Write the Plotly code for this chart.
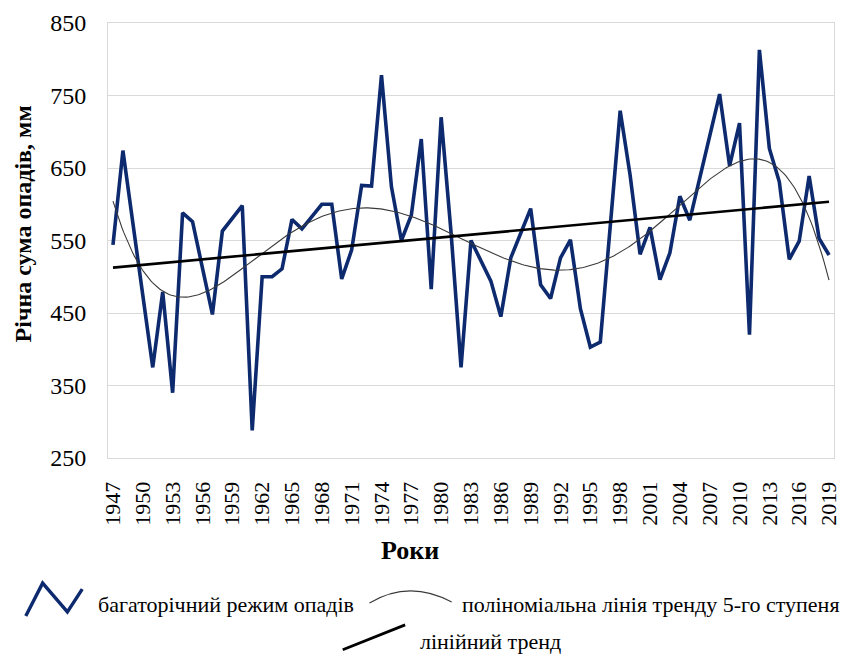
import numpy as np
import plotly.graph_objects as go

years = list(range(1947, 2020))
precip = [544, 674, 574, 475, 375, 479, 340, 588, 576, 512,
          448, 563, 581, 598, 288, 500, 500, 511, 579, 566,
          583, 600, 600, 497, 537, 626, 625, 778, 624, 550,
          585, 690, 483, 720, 560, 375, 550, 521, 494, 445,
          526, 560, 594, 489, 470, 526, 551, 456, 403, 410,
          570, 729, 640, 531, 568, 496, 533, 611, 578, 636,
          694, 752, 653, 712, 420, 813, 677, 631, 524, 549,
          639, 553, 530]
tick_years = years[::3]
y_ticks = [250, 350, 450, 550, 650, 750, 850]

series_name = "багаторічний режим опадів"
poly_name = "поліноміальна лінія тренду 5-го ступеня"
lin_name = "лінійний тренд"
x_title = "Роки"
y_title = "Річна сума опадів, мм"

# Trend lines fitted like Excel (x = 1..n)
idx = np.arange(1, len(years) + 1, dtype=float)
lin_coef = np.polyfit(idx, precip, 1)
lin_vals = np.polyval(lin_coef, idx)
xs_fine = np.linspace(1, len(years), 400)
poly_coef = np.polyfit(idx, precip, 5)
poly_vals = np.polyval(poly_coef, xs_fine)
poly_years = xs_fine + years[0] - 1

W, H = 851, 656
L, R, T, B = 108, 10, 20, 198
pw, ph = W - L - R, H - T - B

def px(x):
    return (x - L) / pw

def py(y):
    return (H - B - y) / ph

FONT = "Liberation Serif, Times New Roman, serif"
NAVY = "#0d2a6e"

fig = go.Figure()
fig.add_trace(go.Scatter(x=years, y=precip, mode="lines", name=series_name,
                         line=dict(color=NAVY, width=3.6), showlegend=False))
fig.add_trace(go.Scatter(x=poly_years, y=poly_vals, mode="lines", name=poly_name,
                         line=dict(color="#3a3a3a", width=1.1), showlegend=False))
fig.add_trace(go.Scatter(x=years, y=lin_vals, mode="lines", name=lin_name,
                         line=dict(color="black", width=2.6), showlegend=False))

fig.update_layout(
    width=W, height=H,
    margin=dict(l=L, r=R, t=T, b=B),
    paper_bgcolor="white", plot_bgcolor="white",
    font=dict(family=FONT, color="black"),
    xaxis=dict(range=[years[0] - 0.5, years[-1] + 0.5], tickmode="array",
               tickvals=tick_years, ticktext=[str(y) for y in tick_years],
               tickangle=-90, tickfont=dict(size=22, family=FONT),
               showgrid=False, zeroline=False, showline=True, linecolor="#d9d9d9",
               linewidth=1, mirror=True, ticks="", ticklabelstandoff=14),
    yaxis=dict(range=[250, 850], tickmode="array", tickvals=y_ticks,
               tickfont=dict(size=24, family=FONT), showgrid=True,
               gridcolor="#d9d9d9", gridwidth=1, zeroline=False, showline=True,
               linecolor="#d9d9d9", linewidth=1, mirror=True, ticks="",
               ticklabelstandoff=16),
)

ann = []
ann.append(dict(text="<b>" + y_title + "</b>", xref="paper", yref="paper",
                x=px(22), y=py(222), textangle=-90, showarrow=False,
                font=dict(size=24, family=FONT), xanchor="center", yanchor="middle"))
ann.append(dict(text="<b>" + x_title + "</b>", xref="paper", yref="paper",
                x=px(413), y=py(551), showarrow=False,
                font=dict(size=26, family=FONT), xanchor="center", yanchor="middle"))
ann.append(dict(text=series_name, xref="paper", yref="paper", x=px(96), y=py(606),
                showarrow=False, font=dict(size=22, family=FONT),
                xanchor="left", yanchor="middle"))
ann.append(dict(text=poly_name, xref="paper", yref="paper", x=px(463), y=py(606),
                showarrow=False, font=dict(size=22, family=FONT),
                xanchor="left", yanchor="middle"))
ann.append(dict(text=lin_name, xref="paper", yref="paper", x=px(421), y=py(643),
                showarrow=False, font=dict(size=22, family=FONT),
                xanchor="left", yanchor="middle"))

def pth(points):
    s = "M " + " L ".join(f"{px(a):.5f},{py(b):.5f}" for a, b in points)
    return s

shapes = [
    dict(type="path", xref="paper", yref="paper",
         path=pth([(25, 617), (42, 584), (67, 613), (82, 590)]),
         line=dict(color=NAVY, width=3.4)),
    dict(type="path", xref="paper", yref="paper",
         path=f"M {px(372):.5f},{py(604):.5f} Q {px(412):.5f},{py(580):.5f} {px(455):.5f},{py(603):.5f}",
         line=dict(color="#3a3a3a", width=1.1)),
    dict(type="line", xref="paper", yref="paper",
         x0=px(345), y0=py(651), x1=px(408), y1=py(626),
         line=dict(color="black", width=2.8)),
]

fig.update_layout(annotations=ann, shapes=shapes)
fig.write_html("out.html", config={"displayModeBar": False},
               post_script="document.body.style.margin='0px';document.body.style.overflow='hidden';")
